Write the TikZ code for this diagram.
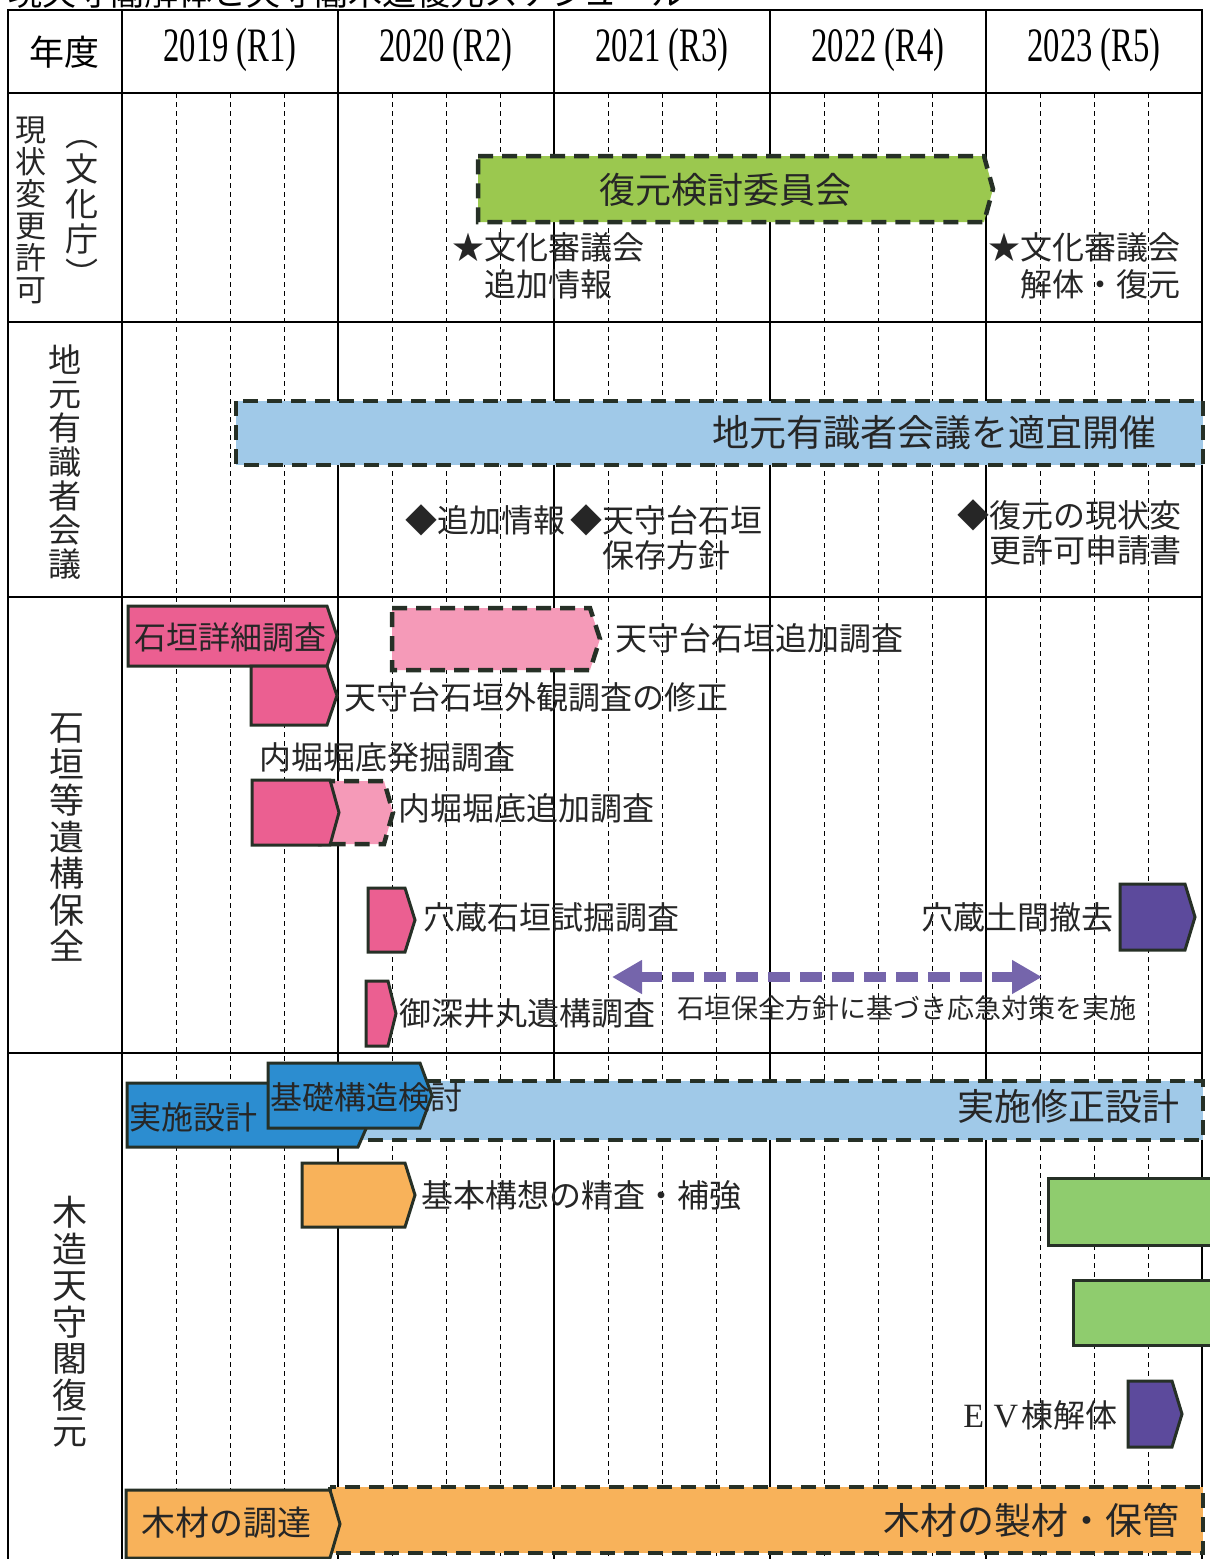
\documentclass[tikz,border=0pt]{standalone}
\usepackage{fontspec}
\setmainfont{Liberation Serif}
\newfontfamily\jp{Noto Sans CJK JP}
\usetikzlibrary{arrows.meta}
\definecolor{cgreen}{HTML}{9BC84F}
\definecolor{cblue}{HTML}{A0C9E8}
\definecolor{cpink}{HTML}{EB5F91}
\definecolor{clpink}{HTML}{F59AB8}
\definecolor{cpurple}{HTML}{5C4A9C}
\definecolor{cdblue}{HTML}{2C8DD0}
\definecolor{corange}{HTML}{F8B25A}
\definecolor{clgreen}{HTML}{8FCC6E}
\definecolor{edgec}{HTML}{263026}
\newcommand{\chev}[6][]{\path[#1] (#2,#3) -- (#4,#3) -- (#5,{(#3+#6)/2}) -- (#4,#6) -- (#2,#6) -- cycle;}
\newcommand{\yr}[1]{\scalebox{0.68}[1]{\fontsize{48}{48}\selectfont #1}}
\tikzset{
  major/.style={draw=black, line width=1.3pt},
  minor/.style={draw=black, line width=1pt, dash pattern=on 5pt off 4pt},
  solidbox/.style={draw=edgec, line width=3pt, line join=miter},
  dashbox/.style={draw=edgec, line width=4.5pt, dash pattern=on 15pt off 9pt},
  jt/.style={font=\jp\fontsize{32}{36}\selectfont, inner sep=0pt, text=black!85},
  jbig/.style={font=\jp\fontsize{37}{40}\selectfont, inner sep=0pt, text=black!85},
  vlab/.style={inner sep=0pt, align=center, text=black!85},
}
\begin{document}
\begin{tikzpicture}[x=1pt,y=-1pt]
\useasboundingbox (0,0) rectangle (1210,1559);
% clipped title
\begin{scope}
\clip (0,0) rectangle (1210,1559);
\node[anchor=base west, font=\jp\fontsize{34}{34}\selectfont, inner sep=0pt] (title) at (8,5) {現天守閣解体と天守閣木造復元スケジュール};
\end{scope}
% grid
\foreach \i in {0,...,4}{\foreach \q in {1,2,3}{\draw[minor] ({122+\i*216+\q*54},93) -- ({122+\i*216+\q*54},1559);}}
\foreach \i in {1,...,4}{\draw[major] ({122+\i*216},10) -- ({122+\i*216},1559);}
\draw[major] (8,1570) -- (8,10) -- (1202,10) -- (1202,1570);
\draw[major] (122,10) -- (122,1559);
\foreach \yy in {93,322,597,1053}{\draw[major] (8,\yy) -- (1202,\yy);}
% header
\node[font=\jp\fontsize{35}{35}\selectfont, inner sep=0pt] (hnen) at (65,52) {年度};
\node[inner sep=0pt] (h19) at (230,50) {\yr{2019 (R1)}};
\node[inner sep=0pt] (h20) at (446,50) {\yr{2020 (R2)}};
\node[inner sep=0pt] (h21) at (662,50) {\yr{2021 (R3)}};
\node[inner sep=0pt] (h22) at (878,50) {\yr{2022 (R4)}};
\node[inner sep=0pt] (h23) at (1094,50) {\yr{2023 (R5)}};
% row labels
\node[vlab, font=\jp\fontsize{31}{32}\selectfont] (l1a) at (31,210) {現\\状\\変\\更\\許\\可};
\node[vlab, font=\jp\fontsize{33}{35}\selectfont] (l1b) at (82,213) {︵\\文\\化\\庁\\︶};
\node[vlab, font=\jp\fontsize{33}{34}\selectfont] (l2) at (65,462) {地\\元\\有\\識\\者\\会\\議};
\node[vlab, font=\jp\fontsize{35}{36.5}\selectfont] (l3) at (67,838) {石\\垣\\等\\遺\\構\\保\\全};
\node[vlab, font=\jp\fontsize{35}{36.5}\selectfont] (l4) at (70,1322) {木\\造\\天\\守\\閣\\復\\元};
% row 1
\chev[fill=cgreen, dashbox]{478}{156}{984}{993}{222}
\node[font=\jp\fontsize{36}{36}\selectfont, inner sep=0pt, text=black!85] (iinkai) at (725,190) {復元検討委員会};
\node[jt, anchor=west, align=left, font=\jp\fontsize{32}{37}\selectfont] (bunka1) at (452,266) {★文化審議会\\　追加情報};
\node[jt, anchor=west, align=left, font=\jp\fontsize{32}{37}\selectfont] (bunka2) at (988,266) {★文化審議会\\　解体・復元};
% row 2
\path[fill=cblue, dashbox] (236,401) rectangle (1203,465);
\node[jbig, anchor=east] (chimoto) at (1157,433) {地元有識者会議を適宜開催};
\node[jt, anchor=west] (tsuika) at (405,520) {◆追加情報};
\node[jt, anchor=west, align=left, font=\jp\fontsize{32}{35}\selectfont] (hozon) at (570,537) {◆天守台石垣\\　保存方針};
\node[jt, anchor=west, align=left, font=\jp\fontsize{32}{35}\selectfont] (shinsei) at (957,532) {◆復元の現状変\\　更許可申請書};
% row 3
\chev[fill=cpink, solidbox]{128}{606}{327}{337}{666}
\node[jt] (ishigaki) at (230,637) {石垣詳細調査};
\chev[fill=cpink, solidbox]{251}{666}{327}{337}{725}
\node[jt, anchor=west] (gaikan) at (344,697) {天守台石垣外観調査の修正};
\chev[fill=clpink, dashbox]{392}{608}{590}{600}{670}
\node[jt, anchor=west] (tsuikachosa) at (615,638) {天守台石垣追加調査};
\node[jt, anchor=west] (hakkutsu) at (259,757) {内堀堀底発掘調査};
\chev[fill=clpink, dashbox]{320}{781}{384}{393}{844}
\chev[fill=cpink, solidbox]{252}{780}{330}{339}{845}
\node[jt, anchor=west] (horizoko) at (398,808) {内堀堀底追加調査};
\chev[fill=cpink, solidbox]{368}{888}{405}{415}{952}
\node[jt, anchor=west] (anagura) at (423,917) {穴蔵石垣試掘調査};
\node[jt, anchor=east] (doma) at (1114,917) {穴蔵土間撤去};
\chev[fill=cpurple, solidbox]{1120}{884}{1185}{1195}{950}
\chev[fill=cpink, solidbox]{366}{981}{388}{396}{1046}
\node[jt, anchor=west] (ofukai) at (399,1013) {御深井丸遺構調査};
\node[anchor=west, font=\jp\fontsize{27}{27}\selectfont, inner sep=0pt, text=black!85] (oukyu) at (677,1008) {石垣保全方針に基づき応急対策を実施};
\coordinate (arrL) at (612,977);
\coordinate (arrR) at (1042,977);
\draw[cpurple!85, line width=10pt, dash pattern=on 22pt off 10pt, {Triangle[length=30pt,width=32pt]}-{Triangle[length=30pt,width=32pt]}] (arrL) -- (arrR);
% row 4
\path[fill=cblue, dashbox] (355,1081) rectangle (1203,1140);
\node[jbig, anchor=east] (shusei) at (1180,1106) {実施修正設計};
\chev[fill=cdblue, solidbox]{127}{1083}{358}{372}{1147}
\chev[fill=cdblue, solidbox]{268}{1063}{420}{432}{1128}
\node[jt, anchor=west] (jisshi) at (129,1117) {実施設計};
\node[jt, anchor=west] (kiso) at (270,1097) {基礎構造検討};
\chev[fill=corange, solidbox]{302}{1163}{405}{415}{1227}
\node[jt, anchor=west] (kihon) at (421,1195) {基本構想の精査・補強};
\path[fill=clgreen, solidbox] (1048,1178) rectangle (1220,1245);
\path[fill=clgreen, solidbox] (1073,1280) rectangle (1220,1345);
\node[anchor=east, inner sep=0pt, text=black!85] (ev) at (1118,1415) {\makebox[32pt]{\fontsize{34}{34}\selectfont E}\makebox[32pt]{\fontsize{34}{34}\selectfont V}{\jp\fontsize{32}{32}\selectfont 棟解体}};
\chev[fill=cpurple, solidbox]{1128}{1381}{1172}{1182}{1447}
\path[fill=corange, dashbox] (330,1487) rectangle (1203,1553);
\node[jbig, anchor=east] (seizai) at (1180,1520) {木材の製材・保管};
\chev[fill=corange, solidbox]{126}{1490}{330}{340}{1558}
\node[jt, font=\jp\fontsize{34}{34}\selectfont] (chotatsu) at (226,1523) {木材の調達};
\end{tikzpicture}
\end{document}
